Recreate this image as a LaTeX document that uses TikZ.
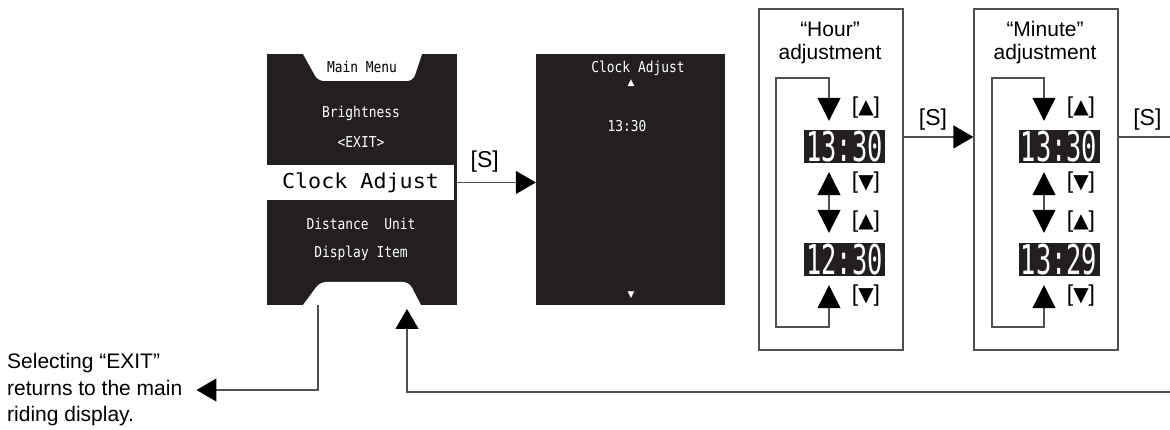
\documentclass[tikz,border=0pt]{standalone}
\usepackage{fontspec}
\setmainfont{Liberation Sans}
\newfontfamily\lcdfont[FakeStretch=0.86]{DejaVu Sans Mono}
\newfontfamily\selfont[FakeStretch=1.06]{DejaVu Sans Mono}
\newfontfamily\digitfont[FakeStretch=0.62]{DejaVu Sans Mono}
\newfontfamily\symfont{DejaVu Sans}
\usetikzlibrary{arrows.meta,positioning}
\definecolor{screen}{RGB}{35,31,32}
\definecolor{wire}{RGB}{80,80,80}

\tikzset{
  conn/.style={draw=wire, line width=1.2pt},
  bigtip/.style={-{Triangle[length=20pt,width=23pt,color=black]}},
  looptip/.style={{Triangle[length=23pt,width=23pt,color=black]}-{Triangle[length=23pt,width=23pt,color=black]}},
  lcd/.style={font=\lcdfont\fontsize{15}{15}\selectfont, text=white, inner sep=0pt},
  display/.style={fill=screen, minimum width=190pt, minimum height=251pt, inner sep=0pt},
  digits/.style={fill=screen, text=white, font=\digitfont\fontsize{41}{41}\selectfont,
    minimum width=81pt, text height=30pt, text depth=0pt, inner sep=1.5pt},
  frame/.style={draw=wire, line width=1.2pt, minimum width=144pt, minimum height=341pt},
  label/.style={font=\fontsize{21}{23}\selectfont, inner sep=0pt},
  key/.style={font=\fontsize{23}{23}\selectfont, inner sep=0pt}
}
\newcommand{\upkey}{[{\symfont\fontsize{20}{20}\selectfont ▲}]}
\newcommand{\downkey}{[{\symfont\fontsize{20}{20}\selectfont ▼}]}

\begin{document}
\begin{tikzpicture}[x=1pt, y=-1pt]
\useasboundingbox (0,0) rectangle (1170,430);

% Main menu screen
\node[display] (menu) at (362,179.5) {};
\fill[white] (303,54) [rounded corners=6pt] -- (318,81) -- (413,81) [sharp corners] -- (422,54) -- cycle;
\fill[white] (303,305) [rounded corners=6pt] -- (320,282) -- (409,282) [sharp corners] -- (421,305) -- cycle;
\node[lcd, text=black] (mtitle) at (362,67) {Main Menu};
\node[lcd] (bright) at (361,113) {Brightness};
\node[lcd] (exit) at (361,142) {<EXIT>};
\node[fill=white, minimum width=187pt, minimum height=35pt, inner sep=0pt,
  font=\selfont\fontsize{20.5}{20.5}\selectfont] (sel) at (360.5,182.5) {Clock Adjust};
\node[lcd] (dist) at (361,224) {Distance\ \ Unit};
\node[lcd] (disp) at (361,253) {Display Item};

% Clock adjust screen
\node[display, minimum width=189pt] (clock) at (630.5,179.5) {};
\node[lcd] (ctitle) at (638,68) {Clock Adjust};
\node[lcd, font=\symfont\fontsize{9}{9}\selectfont] (cup) at (631,83) {▲};
\node[lcd] (ctime) at (627,126) {13:30};
\node[lcd, font=\symfont\fontsize{9}{9}\selectfont] (cdown) at (631,295) {▼};

\draw[conn, bigtip] (menu.east |- sel) -- (clock.west |- sel) node[key, pos=0.35, above=10pt] {[S]};

% Hour adjustment
\node[frame] (hourbox) at (831,179.5) {};
\node[label, align=center] (htitle) at (830,43) {“Hour”\\adjustment};
\node[digits] (h1) at (844.5,146.5) {13:30};
\node[digits] (h2) at (844.5,259.5) {12:30};
\coordinate (hx) at (829,0);
\coordinate (hl) at (776,78);
\coordinate (hb) at (776,327);
\draw[conn, looptip] ([yshift=-9pt]h2.south -| hx) |- (hb) -- (hl) -| ([yshift=9pt]h1.north -| hx);
\draw[conn, looptip] ([yshift=-9pt]h1.south -| hx) -- ([yshift=10pt]h2.north -| hx);
\node[key] (hk1) at (866,108) {\upkey};
\node[key] (hk2) at (866,183) {\downkey};
\node[key] (hk3) at (866,222) {\upkey};
\node[key] (hk4) at (866,296) {\downkey};

% Minute adjustment
\node[frame] (minbox) at (1046,179.5) {};
\node[label, align=center] (mtitle2) at (1045,43) {“Minute”\\adjustment};
\node[digits] (m1) at (1059,146.5) {13:30};
\node[digits] (m2) at (1059,259.5) {13:29};
\coordinate (mx) at (1044,0);
\coordinate (ml) at (992,78);
\coordinate (mb) at (992,327);
\draw[conn, looptip] ([yshift=-9pt]m2.south -| mx) |- (mb) -- (ml) -| ([yshift=9pt]m1.north -| mx);
\draw[conn, looptip] ([yshift=-9pt]m1.south -| mx) -- ([yshift=10pt]m2.north -| mx);
\node[key] (mk1) at (1081,108) {\upkey};
\node[key] (mk2) at (1081,183) {\downkey};
\node[key] (mk3) at (1081,222) {\upkey};
\node[key] (mk4) at (1081,296) {\downkey};

% [S] between the adjustments
\coordinate (sy) at (0,137);
\draw[conn, bigtip] (hourbox.east |- sy) -- (minbox.west |- sy) node[key, pos=0.42, above=6pt] {[S]};
\coordinate (outR) at (1170,137);
\draw[conn] (minbox.east |- sy) -- (outR) node[key, pos=0.56, above=6pt] {[S]};

% Back to main menu / exit
\coordinate (backR) at (1170,392);
\coordinate (backpt) at (407,309);
\draw[conn, bigtip] (backR) -| (backpt);
\node[label, font=\fontsize{21}{26.5}\selectfont, align=left, anchor=west] (exitnote) at (7,390)
  {Selecting “EXIT”\\returns to the main\\riding display.};
\coordinate (exitpt) at (318,305);
\draw[conn, bigtip] (exitpt) |- ([xshift=14pt]exitnote.east);
\end{tikzpicture}
\end{document}
